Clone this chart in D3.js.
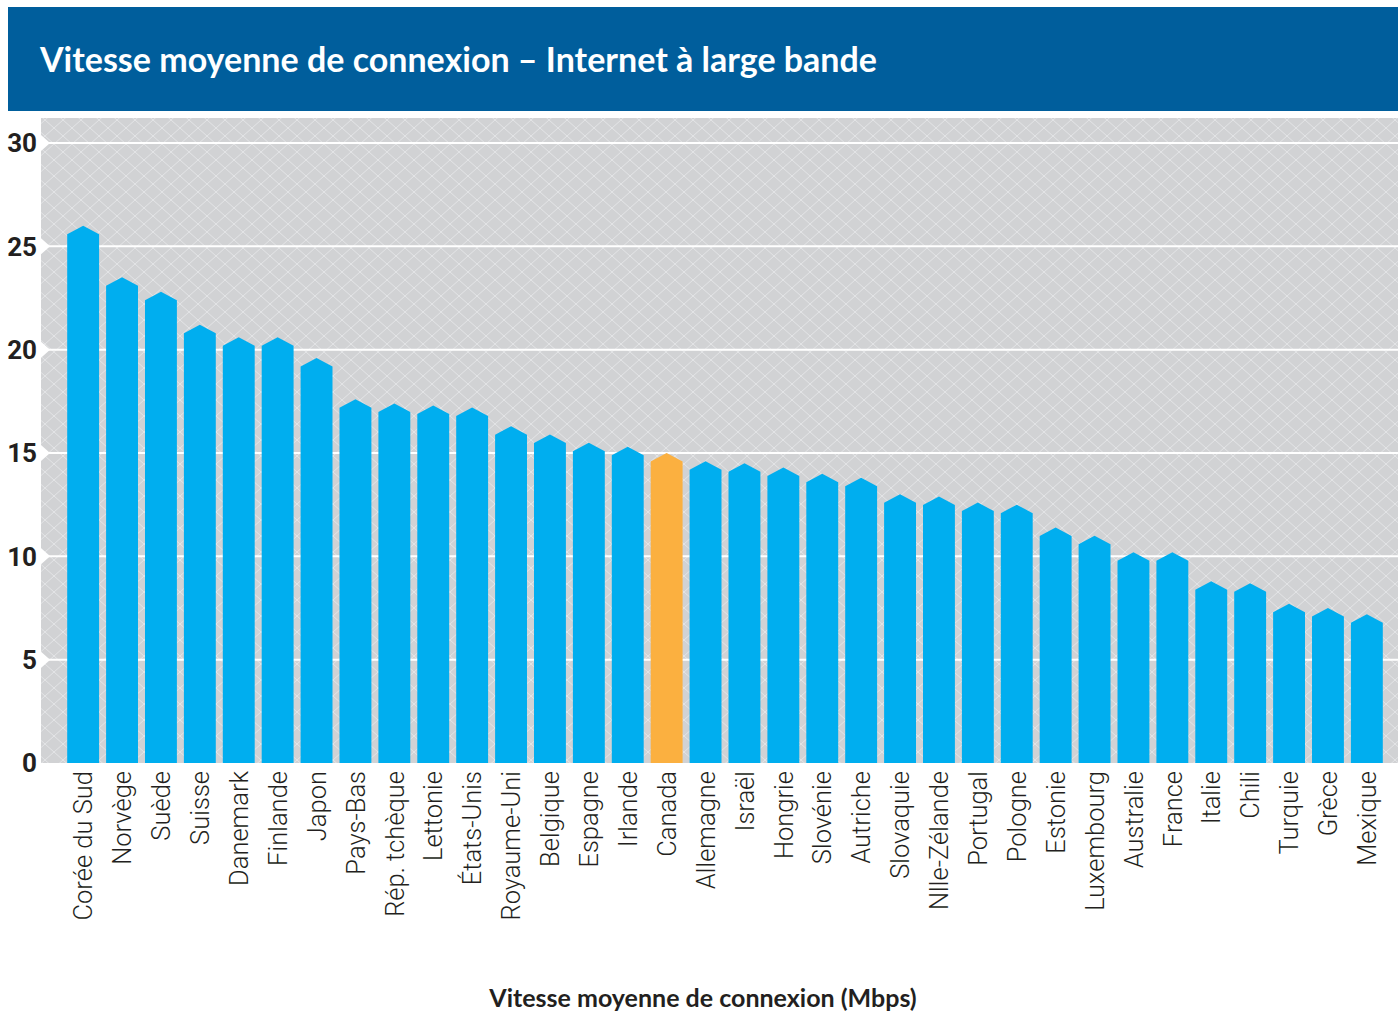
<!DOCTYPE html>
<html>
<head>
<meta charset="utf-8">
<script src="https://cdn.jsdelivr.net/npm/d3@7"></script>
<style>
  body { margin: 0; background: #fff; }
  svg { display: block; }
</style>
</head>
<body>
<script>
// countries, sorted by average speed (Mbps)
var countries = ["Corée du Sud", "Norvège", "Suède", "Suisse", "Danemark", "Finlande", "Japon",
    "Pays-Bas", "Rép. tchèque", "Lettonie", "États-Unis", "Royaume-Uni", "Belgique", "Espagne",
    "Irlande", "Canada", "Allemagne", "Israël", "Hongrie", "Slovénie", "Autriche", "Slovaquie",
    "Nlle-Zélande", "Portugal", "Pologne", "Estonie", "Luxembourg", "Australie", "France",
    "Italie", "Chili", "Turquie", "Grèce", "Mexique"];

var speeds = [26.0, 23.5, 22.8, 21.2, 20.6, 20.6, 19.6,
    17.6, 17.4, 17.3, 17.2, 16.3, 15.9, 15.5,
    15.3, 15.0, 14.6, 14.5, 14.3, 14.0, 13.8, 13.0,
    12.9, 12.6, 12.5, 11.4, 11.0, 10.2, 10.2,
    8.8, 8.7, 7.7, 7.5, 7.2];

var yTicks = [0, 5, 10, 15, 20, 25, 30];
var highlight = "Canada";

var title = "Vitesse moyenne de connexion – Internet à large bande",
    xTitle = "Vitesse moyenne de connexion (Mbps)";

var width = 1400,
    height = 1013;

var data = countries.map(function(c, i) { return { name: c, value: speeds[i] }; });

var svg = d3.select("body").append("svg")
    .attr("width", width)
    .attr("height", height);

// hatch pattern for the plot background
var defs = svg.append("defs");
var pat = defs.append("pattern")
    .attr("id", "hatch")
    .attr("patternUnits", "userSpaceOnUse")
    .attr("width", 18)
    .attr("height", 16);
pat.append("rect").attr("width", 18).attr("height", 16).attr("fill", "#d1d2d4");
pat.append("path")
    .attr("d", "M-1,-0.9 L19,16.9 M-1,16.9 L19,-0.9")
    .attr("stroke", "#e3e4e6")
    .attr("stroke-width", 1)
    .attr("fill", "none");

// header band
svg.append("rect")
    .attr("x", 8)
    .attr("y", 7)
    .attr("width", width - 10)
    .attr("height", 104)
    .attr("fill", "#005e9c");

svg.append("text")
    .attr("x", 40)
    .attr("y", 72)
    .attr("fill", "#fff")
    .style("font-family", "Lato")
    .style("font-weight", 700)
    .style("font-size", "34px")
    .text(title);

var x = d3.scaleBand()
    .domain(countries)
    .range([60, 1390])
    .paddingInner(0.18)
    .paddingOuter(0.185);

var y = d3.scaleLinear()
    .domain([0, 30])
    .range([763, 143]);

// plot background
svg.append("rect")
    .attr("x", 41)
    .attr("y", 118)
    .attr("width", 1357)
    .attr("height", y(0) - 118)
    .attr("fill", "url(#hatch)");

// gridlines with the little notch on the left
var grid = svg.append("g");
grid.selectAll("line")
    .data(yTicks.filter(function(d) { return d > 0; }))
    .enter().append("line")
    .attr("x1", 48)
    .attr("x2", 1398)
    .attr("y1", function(d) { return y(d); })
    .attr("y2", function(d) { return y(d); })
    .attr("stroke", "#fff")
    .attr("stroke-width", 2);
grid.selectAll("path")
    .data(yTicks.filter(function(d) { return d > 0; }))
    .enter().append("path")
    .attr("d", function(d) {
        var yy = y(d);
        return "M41," + (yy - 8) + "L50," + yy + "L41," + (yy + 8) + "Z";
    })
    .attr("fill", "#fff");

// y tick labels
svg.append("g").selectAll("text")
    .data(yTicks)
    .enter().append("text")
    .attr("x", 37)
    .attr("y", function(d) { return y(d); })
    .attr("dy", "0.36em")
    .attr("text-anchor", "end")
    .attr("fill", "#231f20")
    .style("font-family", "Roboto")
    .style("font-weight", 700)
    .style("font-size", "26px")
    .text(function(d) { return d; });

// bars with a pointed top
var peak = 8.5;
svg.append("g").selectAll("path")
    .data(data)
    .enter().append("path")
    .attr("d", function(d) {
        var x0 = x(d.name), x1 = x0 + x.bandwidth(), xm = x0 + x.bandwidth() / 2;
        var top = y(d.value);
        return "M" + x0 + "," + y(0) + "L" + x0 + "," + (top + peak) +
            "L" + xm + "," + top + "L" + x1 + "," + (top + peak) +
            "L" + x1 + "," + y(0) + "Z";
    })
    .attr("fill", function(d) { return d.name === highlight ? "#fbb040" : "#00aeef"; });

// country labels
svg.append("g").selectAll("text")
    .data(data)
    .enter().append("text")
    .attr("transform", function(d) {
        return "translate(" + (x(d.name) + x.bandwidth() / 2) + ",771) rotate(-90)";
    })
    .attr("dy", "0.36em")
    .attr("text-anchor", "end")
    .attr("fill", "#231f20")
    .style("font-family", "Roboto")
    .style("font-weight", 300)
    .style("font-size", "25.5px")
    .text(function(d) { return d.name; });

svg.append("text")
    .attr("x", 703)
    .attr("y", 1007)
    .attr("text-anchor", "middle")
    .attr("fill", "#231f20")
    .style("font-family", "Lato")
    .style("font-weight", 700)
    .style("font-size", "25px")
    .text(xTitle);
</script>
</body>
</html>
